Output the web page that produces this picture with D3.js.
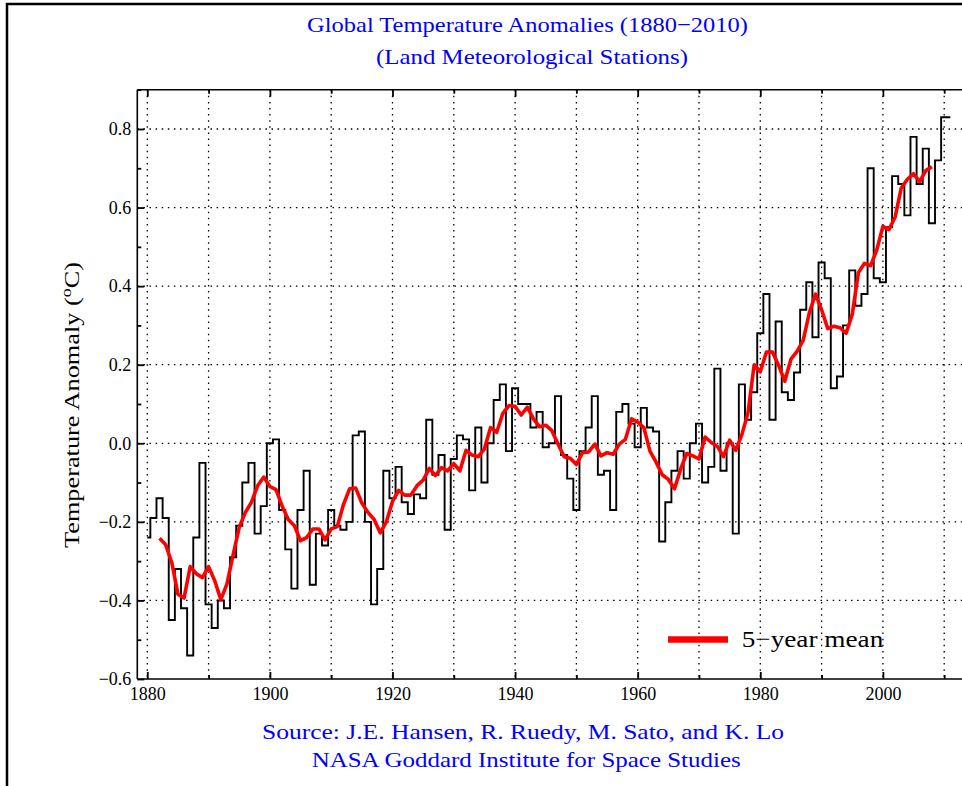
<!DOCTYPE html>
<html><head><meta charset="utf-8">
<script src="https://cdn.jsdelivr.net/npm/d3@7"></script>
<style>
body{margin:0;background:#fff;}
svg{display:block;font-family:"Liberation Serif","DejaVu Serif",serif;}
</style>
</head><body>
<svg id="c" width="962" height="786"></svg>
<script>
// ---- data ----
const firstYear = 1880;
const anomalies = [
 -0.24,-0.19,-0.14,-0.19,-0.45,-0.32,-0.42,-0.54,-0.24,-0.05,   // 1880-1889
 -0.41,-0.47,-0.40,-0.42,-0.29,-0.21,-0.10,-0.05,-0.23,-0.16,   // 1890-1899
  0.00, 0.01,-0.17,-0.27,-0.37,-0.17,-0.07,-0.36,-0.23,-0.26,   // 1900-1909
 -0.17,-0.21,-0.22,-0.20, 0.02, 0.03,-0.20,-0.41,-0.32,-0.07,   // 1910-1919
 -0.14,-0.06,-0.15,-0.18,-0.13,-0.14, 0.06,-0.08,-0.03,-0.22,   // 1920-1929
 -0.04, 0.02, 0.01,-0.12, 0.04,-0.10, 0.00, 0.11, 0.15,-0.02,   // 1930-1939
  0.14, 0.10, 0.10, 0.04, 0.08,-0.01, 0.00, 0.12,-0.03,-0.09,   // 1940-1949
 -0.17,-0.02, 0.04, 0.12,-0.08,-0.07,-0.17, 0.08, 0.10, 0.05,   // 1950-1959
 -0.01, 0.09, 0.04, 0.03,-0.25,-0.15,-0.07,-0.02,-0.09, 0.00,   // 1960-1969
  0.05,-0.10,-0.06, 0.19,-0.07, 0.00,-0.23, 0.15, 0.06, 0.13,   // 1970-1979
  0.28, 0.38, 0.06, 0.31, 0.13, 0.11, 0.18, 0.34, 0.41, 0.27,   // 1980-1989
  0.46, 0.42, 0.14, 0.17, 0.30, 0.44, 0.35, 0.38, 0.70, 0.42,   // 1990-1999
  0.41, 0.55, 0.68, 0.66, 0.58, 0.78, 0.66, 0.75, 0.56, 0.72,   // 2000-2009
  0.83, 0.83                                                    // 2010-2011
];
const meanFirstYear = 1882;
const fiveYearMean = [
 -0.242,-0.258,-0.304,-0.384,-0.394,-0.314,-0.332,-0.342,        // 1882-1889
 -0.314,-0.350,-0.398,-0.358,-0.284,-0.214,-0.176,-0.150,-0.108,-0.086, // 1890-1899
 -0.110,-0.118,-0.160,-0.194,-0.210,-0.248,-0.240,-0.218,-0.218,-0.246, // 1900-1909
 -0.218,-0.212,-0.156,-0.116,-0.114,-0.152,-0.176,-0.194,-0.228,-0.200, // 1910-1919
 -0.148,-0.120,-0.132,-0.132,-0.108,-0.094,-0.064,-0.082,-0.062,-0.070, // 1920-1929
 -0.052,-0.070,-0.018,-0.030,-0.034,-0.014, 0.040, 0.028, 0.076, 0.096, // 1930-1939
  0.094, 0.072, 0.092, 0.062, 0.042, 0.046, 0.032,-0.002,-0.034,-0.038, // 1940-1949
 -0.054,-0.024,-0.022,-0.002,-0.032,-0.024,-0.028,-0.002, 0.010, 0.062, // 1950-1959
  0.054, 0.040,-0.020,-0.048,-0.080,-0.092,-0.116,-0.066,-0.026,-0.032, // 1960-1969
 -0.040, 0.016, 0.002,-0.008,-0.034, 0.008,-0.018, 0.022, 0.078, 0.200, // 1970-1979
  0.182, 0.232, 0.232, 0.198, 0.158, 0.214, 0.234, 0.262, 0.332, 0.380, // 1980-1989
  0.340, 0.292, 0.298, 0.294, 0.280, 0.328, 0.434, 0.458, 0.452, 0.492, // 1990-1999
  0.552, 0.544, 0.576, 0.650, 0.672, 0.686, 0.666, 0.694, 0.704         // 2000-2008
];
const xLabelTicks = [1880,1900,1920,1940,1960,1980,2000];
const xMinorTicks = [1890,1910,1930,1950,1970,1990,2010];
const xGridYears  = [1880,1890,1900,1910,1920,1930,1940,1950,1960,1970,1980,1990,2000,2010];
const yLabelTicks = [-0.6,-0.4,-0.2,0.0,0.2,0.4,0.6,0.8];
const yMinorTicks = [-0.5,-0.3,-0.1,0.1,0.3,0.5,0.7,0.9];
const yGridValues = [-0.4,-0.2,0.0,0.2,0.4,0.6,0.8];
const titleLines  = ["Global Temperature Anomalies (1880\u22122010)","(Land Meteorological Stations)"];
const sourceLines = ["Source: J.E. Hansen, R. Ruedy, M. Sato, and K. Lo","NASA Goddard Institute for Space Studies"];
const legendLabel = "5\u2212year mean";

// ---- layout ----
const L = 137.3, T = 89.7, B = 679, pxPerYear = 6.13;
const xMin = 1878.37, xMax = 2014;
const R = L + (xMax - xMin) * pxPerYear;

const svg = d3.select("#c");
const x = d3.scaleLinear().domain([xMin, xMax]).range([L, R]);
const y = d3.scaleLinear().domain([-0.6, 0.9]).range([B, T]);
const fmt = v => (v < 0 ? "\u2212" : "") + Math.abs(v).toFixed(1);
const blank = () => "";

// figure frame (cut by the picture edge on right/bottom)
svg.append("rect").attr("x",7).attr("y",4).attr("width",1200).attr("height",1200)
  .attr("fill","none").attr("stroke","#000").attr("stroke-width",2.5);

// grid
const grid = svg.append("g").attr("stroke","#000").attr("stroke-width",1.3)
  .attr("stroke-dasharray","1.5,4.6");
grid.selectAll(".gv").data(xGridYears).join("line")
  .attr("x1",d=>x(d)).attr("x2",d=>x(d)).attr("y1",T).attr("y2",B);
grid.selectAll(".gh").data(yGridValues).join("line")
  .attr("x1",L).attr("x2",R).attr("y1",d=>y(d)).attr("y2",d=>y(d));

// axes (ticks inward)
function styleAxis(g){ g.select(".domain").remove();
  g.attr("font-size",null).attr("font-family",null);
  g.selectAll(".tick line").attr("stroke","#000").attr("stroke-width",1.8);
  g.selectAll(".tick text").attr("fill","#000").style("font-size","18px")
   .style("font-family","'Liberation Serif','DejaVu Serif',serif"); }
svg.append("g").attr("transform",`translate(0,${B})`)
  .call(d3.axisBottom(x).tickValues(xLabelTicks).tickFormat(d3.format("d")).tickSizeInner(-7).tickSizeOuter(0).tickPadding(8))
  .call(styleAxis);
svg.append("g").attr("transform",`translate(0,${B})`)
  .call(d3.axisBottom(x).tickValues(xMinorTicks).tickFormat(blank).tickSizeInner(-4).tickSizeOuter(0))
  .call(styleAxis);
svg.append("g").attr("transform",`translate(0,${T})`)
  .call(d3.axisTop(x).tickValues(xLabelTicks).tickFormat(blank).tickSizeInner(-7).tickSizeOuter(0))
  .call(styleAxis);
svg.append("g").attr("transform",`translate(0,${T})`)
  .call(d3.axisTop(x).tickValues(xMinorTicks).tickFormat(blank).tickSizeInner(-4).tickSizeOuter(0))
  .call(styleAxis);
svg.append("g").attr("transform",`translate(${L},0)`)
  .call(d3.axisLeft(y).tickValues(yLabelTicks).tickFormat(fmt).tickSizeInner(-7).tickSizeOuter(0).tickPadding(6))
  .call(styleAxis);
svg.append("g").attr("transform",`translate(${L},0)`)
  .call(d3.axisLeft(y).tickValues(yMinorTicks).tickFormat(blank).tickSizeInner(-4).tickSizeOuter(0))
  .call(styleAxis);

// spines
const sp = svg.append("g").attr("stroke","#000").attr("stroke-width",1.6);
sp.append("line").attr("x1",L).attr("x2",L).attr("y1",T).attr("y2",B);
sp.append("line").attr("x1",L).attr("x2",R).attr("y1",T).attr("y2",T);
sp.append("line").attr("x1",L).attr("x2",R).attr("y1",B).attr("y2",B);

// data
svg.append("clipPath").attr("id","plot").append("rect")
  .attr("x",L).attr("y",T).attr("width",R-L).attr("height",B-T);
const plot = svg.append("g").attr("clip-path","url(#plot)");
plot.append("path").datum(anomalies)
  .attr("d", d3.line().x((d,i)=>x(firstYear+i)).y(d=>y(d)).curve(d3.curveStep))
  .attr("fill","none").attr("stroke","#000").attr("stroke-width",1.9);
plot.append("path").datum(fiveYearMean)
  .attr("d", d3.line().x((d,i)=>x(meanFirstYear+i)).y(d=>y(d)))
  .attr("fill","none").attr("stroke","#ff0000").attr("stroke-width",3.6)
  .attr("stroke-linejoin","round");

// legend
svg.append("line").attr("x1",668).attr("x2",728).attr("y1",639.5).attr("y2",639.5)
  .attr("stroke","#ff0000").attr("stroke-width",6.5);
svg.append("text").attr("x",741.7).attr("y",646.5).attr("font-size",24)
  .attr("textLength",141.6).attr("lengthAdjust","spacingAndGlyphs").text(legendLabel);

// titles
const blue = "#0000ff";
svg.append("text").attr("x",307).attr("y",31.5).attr("font-size",22).attr("fill",blue)
  .attr("textLength",441).attr("lengthAdjust","spacingAndGlyphs").text(titleLines[0]);
svg.append("text").attr("x",376).attr("y",63.5).attr("font-size",22).attr("fill",blue)
  .attr("textLength",312).attr("lengthAdjust","spacingAndGlyphs").text(titleLines[1]);
svg.append("text").attr("x",262).attr("y",739).attr("font-size",21).attr("fill",blue)
  .attr("textLength",522).attr("lengthAdjust","spacingAndGlyphs").text(sourceLines[0]);
svg.append("text").attr("x",311.7).attr("y",766.5).attr("font-size",21).attr("fill",blue)
  .attr("textLength",429).attr("lengthAdjust","spacingAndGlyphs").text(sourceLines[1]);

// y label
const yl = svg.append("text").attr("transform","translate(79,548) rotate(-90)")
  .attr("font-size",22).attr("textLength",286).attr("lengthAdjust","spacingAndGlyphs");
yl.append("tspan").text("Temperature Anomaly (");
yl.append("tspan").attr("font-size",15).attr("dy",-8).text("o");
yl.append("tspan").attr("dy",8).text("C)");
</script>
</body></html>
